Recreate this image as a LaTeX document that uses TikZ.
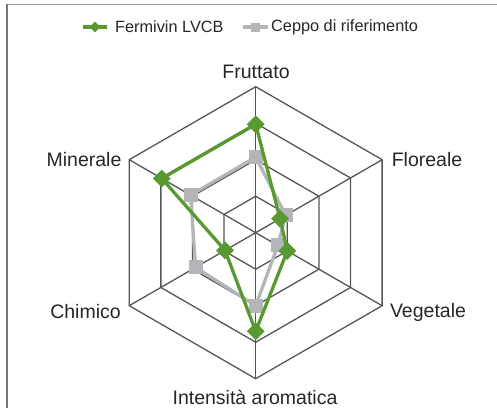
\documentclass[tikz,border=0pt]{standalone}
\usepackage{fontspec}
\setmainfont{Liberation Sans}
\usetikzlibrary{shapes.geometric}
\definecolor{vert}{RGB}{88,154,48}
\definecolor{gris}{RGB}{180,181,185}
\definecolor{grille}{RGB}{85,85,88}
\tikzset{
  grille/.style={draw=grille,line width=1.3pt},
  serie/.style={line width=3.3pt,line join=round},
  losange/.style={fill=vert,shape=diamond,inner sep=0pt,minimum size=18pt},
  carre/.style={fill=gris,inner sep=0pt,minimum size=14pt},
  etiq/.style={font=\fontsize{19.5}{19.5}\selectfont,text=black!85,inner sep=0pt},
  leg/.style={font=\fontsize{16.3}{16.3}\selectfont,text=black!85,inner sep=0pt,anchor=west}
}
\begin{document}
\begin{tikzpicture}[x=1pt,y=1pt]
\useasboundingbox (-255.7,-175.3) rectangle (241.3,232.7);
% cadre
\draw[gray!80,line width=1.5pt] (-248.7,228.4) -- (241.3,228.4);
\draw[grille!80,line width=1.5pt] (-248.7,228.4) -- (-248.7,-175.3);
% grille hexagonale
\foreach \r in {1,...,4}
  \draw[grille] (30:36.5*\r) \foreach \a in {90,150,...,330}{ -- (\a:36.5*\r)} -- cycle;
\foreach \a in {30,90,...,330} \draw[grille] (0,0) -- (\a:146);
% axes
\node[etiq] (frut) at (0.3,160.7) {Fruttato};
\node[etiq] (flor) at (171.3,72.7) {Floreale};
\node[etiq] (veg) at (172.3,-79.3) {Vegetale};
\node[etiq] (int) at (-0.7,-164.3) {Intensità aromatica};
\node[etiq] (chim) at (-170.2,-79.3) {Chimico};
\node[etiq] (min) at (-171.7,72.7) {Minerale};
% ceppo di riferimento
\foreach \a/\v [count=\i] in {90/2.07,30/0.95,-30/0.7,-90/2.0,-150/1.9,150/2.06}
  \coordinate (g\i) at (\a:36.5*\v);
\draw[serie,gris] (g1)--(g2)--(g3)--(g4)--(g5)--(g6)--cycle;
\foreach \i in {1,...,6} \node[carre] at (g\i) {};
% Fermivin LVCB
\foreach \a/\v [count=\i] in {90/2.97,30/0.77,-30/1.0,-90/2.7,-150/0.97,150/2.97}
  \coordinate (f\i) at (\a:36.5*\v);
\draw[serie,vert] (f1)--(f2)--(f3)--(f4)--(f5)--(f6)--cycle;
\foreach \i in {1,...,6} \node[losange] at (f\i) {};
% legende
\coordinate (lf1) at (-172.7,205.7); \coordinate (lf2) at (-148.7,205.7);
\draw[vert,line width=3.5pt] (lf1) -- (lf2);
\node[losange,minimum size=11pt] at (-160.7,205.7) {};
\node[leg] (lfv) at (-140.7,205.7) {Fermivin LVCB};
\coordinate (lg1) at (-12.7,205.7); \coordinate (lg2) at (12.3,205.7);
\draw[gris,line width=3.5pt] (lg1) -- (lg2);
\node[carre,minimum size=9pt] at (-0.2,205.7) {};
\node[leg] (lgr) at (15.3,205.7) {Ceppo di riferimento};
\end{tikzpicture}
\end{document}
